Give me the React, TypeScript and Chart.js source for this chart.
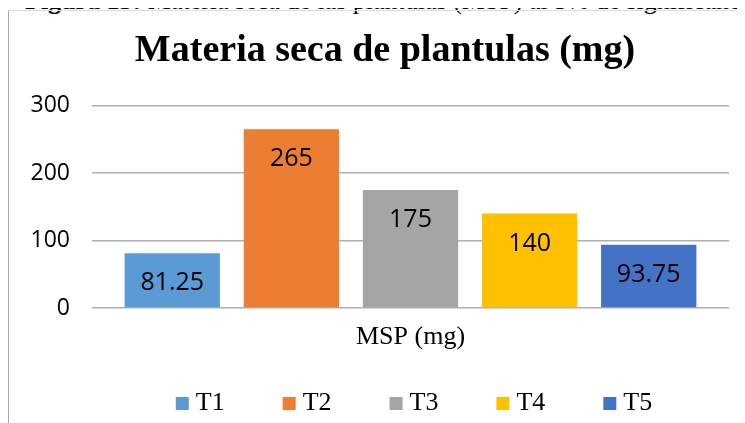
import React, { useEffect, useRef } from "react";
import { Chart, registerables } from "chart.js";

Chart.register(...registerables);

const categories = ["MSP (mg)"];
const seriesNames = ["T1", "T2", "T3", "T4", "T5"];
const seriesValues = [81.25, 265, 175, 140, 93.75];
const seriesLabels = ["81.25", "265", "175", "140", "93.75"];
const seriesColors = ["#5B9BD5", "#ED7D31", "#A5A5A5", "#FFC000", "#4472C4"];
const yTicks = [0, 100, 200, 300];

const chartTitle = "Materia seca de plantulas (mg)";
const captionBold = "Figura 13:";
const captionText = " Materia seca de las plantulas (MSP) al 5% de significancia";

const barLabelPlugin = {
  id: "barLabels",
  afterDatasetsDraw(chart: any) {
    const ctx = chart.ctx;
    ctx.save();
    ctx.font = "25px 'Open Sans'";
    ctx.fillStyle = "#000";
    ctx.textAlign = "center";
    ctx.textBaseline = "middle";
    chart.data.datasets.forEach((ds: any, i: number) => {
      const meta = chart.getDatasetMeta(i);
      meta.data.forEach((bar: any) => {
        ctx.fillText(seriesLabels[i], bar.x, bar.y + 30);
      });
    });
    ctx.restore();
  },
};

const layoutTweakPlugin = {
  id: "layoutTweak",
  beforeLayout(chart: any) {
    const lg = chart.legend;
    if (lg && !lg._patched) {
      const orig = lg.fit.bind(lg);
      lg.fit = function () {
        orig();
        this.height = 69;
      };
      lg._patched = true;
    }
  },
  afterLayout(chart: any) {
    const lg = chart.legend;
    if (lg) {
      lg.left += 48;
      lg.right += 48;
      lg.top -= 27.5;
      lg.height += 27.5;
    }
    const tb = chart.titleBlock;
    if (tb) {
      tb.left += 16;
      tb.right += 16;
    }
  },
};

export default function App() {
  const ref = useRef<HTMLCanvasElement>(null);
  useEffect(() => {
    if (!ref.current) return;
    const chart = new Chart(ref.current, {
      type: "bar",
      data: {
        labels: categories,
        datasets: seriesNames.map((n, i) => ({
          label: n,
          data: [seriesValues[i]],
          backgroundColor: seriesColors[i],
          borderWidth: 0,
          categoryPercentage: 0.935,
          barPercentage: 0.8,
        })),
      },
      options: {
        animation: false,
        responsive: false,
        devicePixelRatio: 1,
        layout: { padding: { left: 9, right: 16, top: 0, bottom: 0 } },
        plugins: {
          title: {
            display: true,
            text: chartTitle,
            color: "#000",
            font: { family: "'Liberation Serif'", size: 38, weight: "bold", lineHeight: 1.2 },
            padding: { top: 28, bottom: 32 },
          },
          legend: {
            display: true,
            position: "bottom",
            labels: {
              color: "#000",
              usePointStyle: true,
              pointStyle: "rect",
              boxWidth: 1,
              boxHeight: 13,
              padding: 64,
              font: { family: "'Liberation Serif'", size: 26 },
            },
          },
          tooltip: { enabled: false },
        },
        scales: {
          x: {
            grid: { display: false, drawTicks: false },
            border: { display: false },
            afterFit: (scale: any) => {
              scale.height = 46;
            },
            ticks: {
              color: "#000",
              padding: 14,
              font: { family: "'Liberation Serif'", size: 26 },
            },
          },
          y: {
            min: 0,
            max: 300,
            afterBuildTicks: (scale: any) => {
              scale.ticks = yTicks.map((v) => ({ value: v }));
            },
            afterFit: (scale: any) => {
              scale.width = 83;
            },
            grid: { color: "#b0b0b0", lineWidth: 1.5, drawTicks: false },
            border: { display: false },
            ticks: {
              color: "#000",
              padding: 22,
              font: { family: "'Open Sans'", size: 23 },
            },
          },
        },
      },
      plugins: [barLabelPlugin, layoutTweakPlugin],
    } as any);
    return () => chart.destroy();
  }, []);

  return (
    <div
      style={{
        position: "relative",
        marginLeft: -8,
        marginTop: -8,
        width: 745,
        height: 423,
        overflow: "hidden",
        background: "#fff",
      }}
    >
      <div
        style={{
          position: "absolute",
          left: 25,
          top: -12,
          whiteSpace: "nowrap",
          fontFamily: "'Liberation Serif'",
          fontSize: 26,
          lineHeight: "26px",
          color: "#000",
        }}
      >
        <b>{captionBold}</b>
        {captionText}
      </div>
      <div
        style={{
          position: "absolute",
          left: 8,
          top: 10,
          width: 900,
          height: 600,
          borderLeft: "1.5px solid #a8a8a8",
          borderTop: "1px solid #dcdcdc",
        }}
      />
      <canvas
        ref={ref}
        width={745}
        height={423}
        style={{ position: "absolute", left: 0, top: 0, width: 745, height: 423 }}
      />
    </div>
  );
}
